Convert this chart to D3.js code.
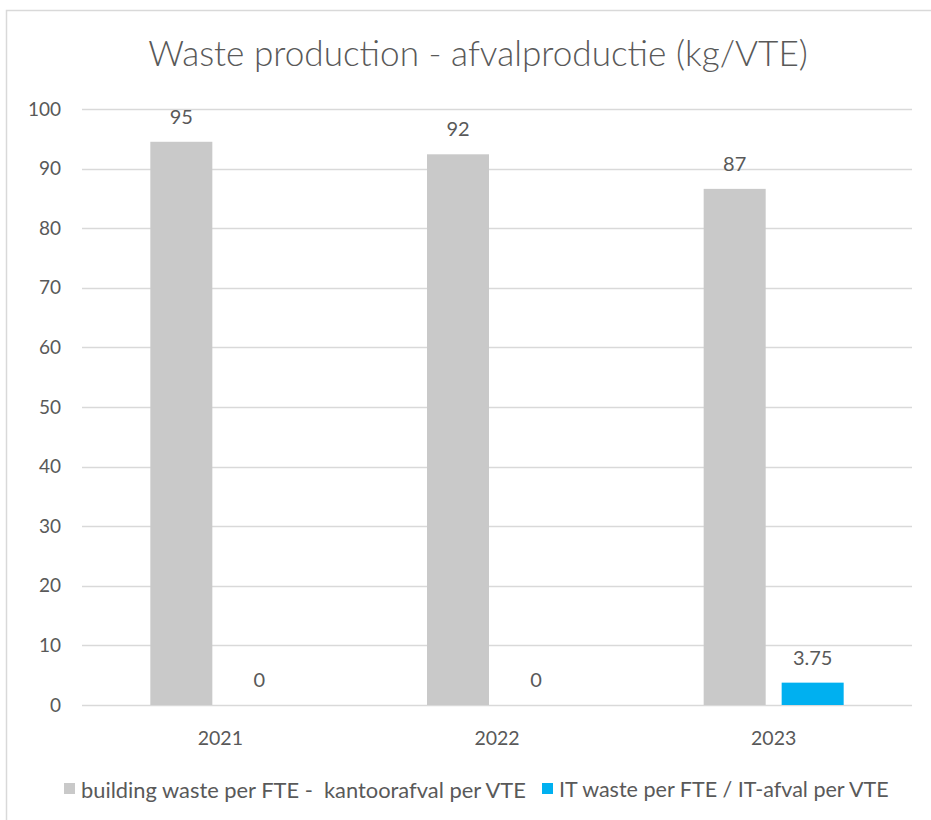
<!DOCTYPE html>
<html>
<head>
<meta charset="utf-8">
<script src="https://cdn.jsdelivr.net/npm/d3@7"></script>
<style>
  html, body { margin: 0; padding: 0; background: #fff; }
  svg { display: block; }
  text { font-family: Lato, "Open Sans", sans-serif; fill: #595959; }
</style>
</head>
<body>
<script>
// ---- data ----
const title = "Waste production - afvalproductie (kg/VTE)";
const categories = ["2021", "2022", "2023"];
const seriesNames = ["building waste per FTE -  kantoorafval per VTE", "IT waste per FTE / IT-afval per VTE"];
const buildingWaste = [94.5, 92.4, 86.6];
const itWaste = [0, 0, 3.75];
const yTicks = [0, 10, 20, 30, 40, 50, 60, 70, 80, 90, 100];
const seriesColors = ["#c9c9c9", "#00b0f0"];
const labelFormats = [d3.format(".0f"), d => String(d)];

const W = 931, H = 820;
const svg = d3.select("body").append("svg").attr("width", W).attr("height", H);

// chart border
svg.append("rect").attr("x", 6.5).attr("y", 10.5).attr("width", W).attr("height", H)
  .attr("fill", "#fff").attr("stroke", "#d9d9d9").attr("stroke-width", 1.5);

const plot = { left: 82, right: 912, top: 109, bottom: 705 };

const x = d3.scaleBand().domain(categories).range([plot.left, plot.right]).padding(0);
const xs = d3.scaleBand().domain([0, 1]).range([0, x.bandwidth()]).paddingInner(0.205).paddingOuter(0.876);
const y = d3.scaleLinear().domain([0, 100]).range([plot.bottom, plot.top]);

// gridlines
svg.append("g").selectAll("line").data(yTicks).join("line")
  .attr("x1", plot.left).attr("x2", plot.right)
  .attr("y1", d => Math.round(y(d)) + 0.5).attr("y2", d => Math.round(y(d)) + 0.5)
  .attr("stroke", "#d9d9d9").attr("stroke-width", 1.3);

// y axis labels
const yAxis = d3.axisLeft(y).tickValues(yTicks).tickSize(0).tickPadding(0);
const yg = svg.append("g").attr("transform", `translate(61,0)`).call(yAxis);
yg.select(".domain").remove();
yg.selectAll("text").style("font-size", "19px").attr("fill", "#595959");

// x axis labels
const xAxis = d3.axisBottom(x).tickSize(0).tickPadding(0);
const xg = svg.append("g").attr("transform", `translate(0,${plot.bottom + 32})`).call(xAxis);
xg.select(".domain").remove();
xg.selectAll("text").style("font-size", "19.5px").attr("fill", "#595959")
  .attr("dy", null).attr("dominant-baseline", "central");

// bars
const series = [buildingWaste, itWaste];
series.forEach((vals, si) => {
  const g = svg.append("g");
  g.selectAll("rect").data(vals).join("rect")
    .attr("x", (d, i) => x(categories[i]) + xs(si))
    .attr("width", xs.bandwidth())
    .attr("y", d => y(d))
    .attr("height", d => y(0) - y(d))
    .attr("fill", seriesColors[si]);
  g.selectAll("text").data(vals).join("text")
    .attr("x", (d, i) => x(categories[i]) + xs(si) + xs.bandwidth() / 2)
    .attr("y", d => y(d) - 26)
    .attr("text-anchor", "middle")
    .attr("dominant-baseline", "central")
    .style("font-size", "20px")
    .text(d => labelFormats[si](d));
});

// title (fit to reference width)
const t = svg.append("text").attr("x", 478).attr("y", 66).attr("text-anchor", "middle")
  .style("font-size", "28px").style("font-weight", 300).text(title);
const tw = t.node().getComputedTextLength();
t.style("font-size", (28 * 660 / tw) + "px");

// legend
const lg = svg.append("g");
const legendX = [64, 542];
const legendTarget = [445, 330];
seriesNames.forEach((name, i) => {
  lg.append("rect").attr("x", legendX[i]).attr("y", 783).attr("width", 11).attr("height", 11)
    .attr("fill", seriesColors[i]);
  const lt = lg.append("text").attr("x", legendX[i] + 17).attr("y", 789)
    .attr("dominant-baseline", "central").style("font-size", "17px")
    .attr("xml:space", "preserve").style("white-space", "pre").text(name);
  const w = lt.node().getComputedTextLength();
  lt.style("font-size", (17 * legendTarget[i] / w) + "px");
});
</script>
</body>
</html>
